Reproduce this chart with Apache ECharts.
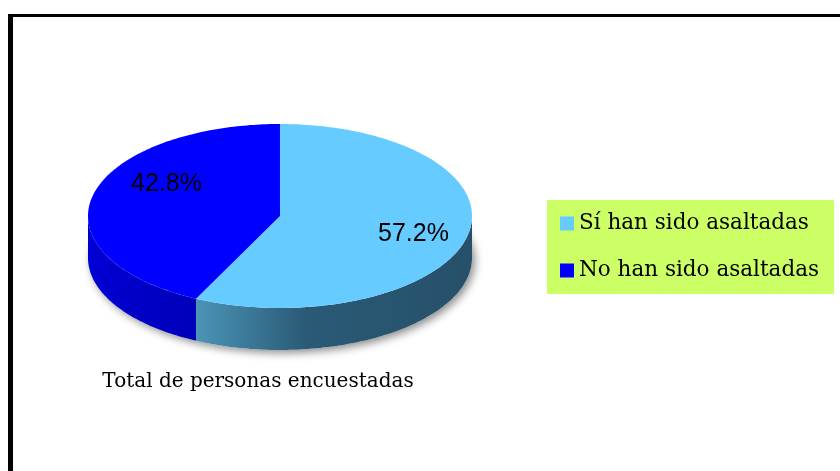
<!DOCTYPE html>
<html>
<head>
<meta charset="utf-8">
<style>
	html, body { margin: 0; padding: 0; background: #fff; }
	#main { width: 840px; height: 471px; }
</style>
<script src="https://cdn.jsdelivr.net/npm/echarts@6/dist/echarts.min.js"></script>
</head>
<body>
<div id="main"></div>
<script>
// datos del gráfico
const categories = ['Sí han sido asaltadas', 'No han sido asaltadas']
const percentages = [57.2, 42.8]
const chartTitle = 'Total de personas encuestadas'

// estilos
const topColors = ['#66ccff', '#0000ff']
const sideStops = [
	[[0, '#4b94b6'], [0.4, '#2a5a76'], [1, '#26506a']],
	[[0, '#0000d4'], [1, '#0000b8']]
]

// geometría del pastel 3D (centro, radios, grosor)
const pie = { cx: 280, cy: 216, rx: 192, ry: 92, depth: 42 }

const total = percentages.reduce((a, b) => a + b, 0)
const starts = percentages.map((v, i) =>
	percentages.slice(0, i).reduce((a, b) => a + b, 0) / total * 360)

// ángulo en grados, en sentido horario desde las 12
const pt = (deg, dy) => {
	const r = deg * Math.PI / 180
	return [pie.cx + pie.rx * Math.sin(r), pie.cy + dy - pie.ry * Math.cos(r)]
}
const arc = (a0, a1, dy) => {
	const n = Math.max(2, Math.ceil(Math.abs(a1 - a0)))
	const pts = []
	for (let k = 0; k <= n; k++) pts.push(pt(a0 + (a1 - a0) * k / n, dy))
	return pts
}

const renderSlice = i => (params, api) => {
	const a0 = starts[i]
	const a1 = a0 + api.value(0) / total * 360
	const children = []

	if (i === 0) children.push({
		type: 'polygon',
		shape: { points: arc(0, 360, pie.depth) },
		style: {
			fill: '#fff',
			shadowBlur: 8, shadowOffsetX: 3, shadowOffsetY: 3,
			shadowColor: 'rgba(0,0,0,0.45)'
		}
	})

	// pared lateral visible (mitad frontal)
	const s = Math.max(a0, 90), e = Math.min(a1, 270)
	if (s < e) {
		const pts = arc(s, e, 0).concat(arc(e, s, pie.depth))
		const xs = pts.map(p => p[0])
		children.push({
			type: 'polygon',
			shape: { points: pts },
			style: {
				fill: {
					type: 'linear', global: true,
					x: Math.min(...xs), y: 0, x2: Math.max(...xs), y2: 0,
					colorStops: sideStops[i].map(([offset, color]) => ({ offset, color }))
				}
			}
		})
	}

	// cara superior
	children.push({
		type: 'polygon',
		shape: { points: [[pie.cx, pie.cy]].concat(arc(a0, a1, 0)) },
		style: { fill: topColors[i] }
	})

	// etiqueta de porcentaje
	const mid = (a0 + a1) / 2 * Math.PI / 180
	children.push({
		type: 'text',
		x: pie.cx + 10 + pie.rx * 0.66 * Math.sin(mid),
		y: pie.cy - 7 - pie.ry * 1.2 * Math.cos(mid),
		style: {
			text: api.value(0).toFixed(1) + '%',
			fill: '#000',
			font: '25px "Liberation Sans"',
			align: 'center',
			verticalAlign: 'middle'
		}
	})

	return { type: 'group', children }
}

const chart = echarts.init(document.getElementById('main'), null, { renderer: 'canvas' })
chart.setOption({
	animation: false,
	backgroundColor: '#fff',
	title: {
		text: chartTitle,
		left: 258,
		top: 372,
		textAlign: 'center',
		padding: 0,
		textStyle: {
			fontFamily: 'DejaVu Serif',
			fontSize: 20,
			fontWeight: 'normal',
			color: '#000'
		}
	},
	legend: {
		orient: 'vertical',
		left: 547,
		top: 200,
		padding: [11.5, 10, 11.5, 13],
		backgroundColor: '#ccff66',
		icon: 'rect',
		itemWidth: 14,
		itemHeight: 14,
		itemGap: 23,
		itemTextGap: 7,
		selectedMode: false,
		data: categories,
		textStyle: {
			fontFamily: 'DejaVu Serif',
			fontSize: 21.5,
			lineHeight: 24,
			width: 245,
			color: '#000'
		}
	},
	graphic: [
		{ type: 'rect', shape: { x: 8, y: 14, width: 5, height: 470 }, style: { fill: '#000' } },
		{ type: 'rect', shape: { x: 8, y: 14, width: 840, height: 3 }, style: { fill: '#000' } }
	],
	series: categories.map((name, i) => ({
		type: 'custom',
		name,
		coordinateSystem: 'none',
		silent: true,
		itemStyle: { color: topColors[i] },
		data: [percentages[i]],
		renderItem: renderSlice(i)
	}))
})
</script>
</body>
</html>
